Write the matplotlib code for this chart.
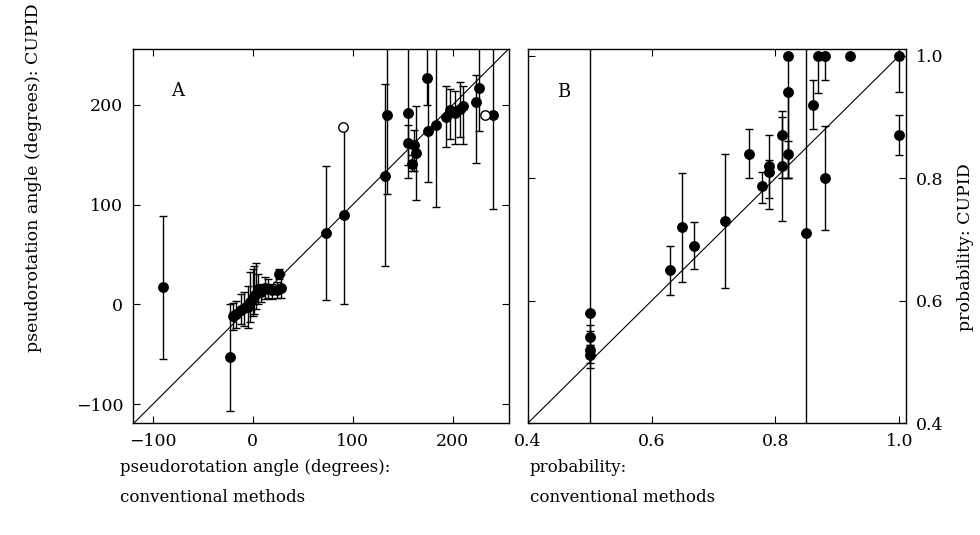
import numpy as np
import matplotlib.pyplot as plt

plt.rcParams['font.family'] = ['DejaVu Serif']
plt.rcParams['axes.unicode_minus'] = True

# Panel A: pseudorotation angle (degrees)
a_x = [-90, -23, -20, -17, -12, -9, -5, -3, 0, 1, 3, 5, 8, 12, 15, 19, 24, 28, 26,
       73, 91, 132, 134, 155, 161, 155, 163, 159, 174, 175, 183,
       193, 197, 202, 207, 210, 223, 226, 240]
a_y = [17, -53, -12, -10, -6, -4, -3, 2, 5, 8, 10, 15, 12, 16, 15, 14, 14, 16, 30,
       72, 90, 129, 190, 192, 160, 162, 152, 141, 227, 174, 180,
       188, 195, 192, 196, 199, 203, 217, 190]
a_lo = [-55, -107, -26, -24, -20, -22, -24, -18, -12, -10, -5, 0, 2, 5, 6, 5, 6, 6, 25,
        4, 0, 38, 111, 127, 134, 140, 105, 134, 200, 123, 98,
        158, 166, 161, 168, 161, 142, 174, 96]
a_hi = [89, 0, 1, 3, 10, 12, 18, 32, 35, 38, 41, 30, 20, 27, 25, 20, 22, 30, 35,
        139, 178, 221, 300, 300, 175, 180, 199, 150, 300, 227, 300,
        219, 216, 214, 223, 219, 230, 300, 300]
a_open_x = [90, 232]
a_open_y = [178, 190]

# Panel B: probability
b_x = [0.5, 0.5, 0.5, 0.5, 0.629, 0.649, 0.669, 0.719, 0.758, 0.779, 0.79, 0.79,
       0.81, 0.81, 0.82, 0.82, 0.82, 0.85, 0.861, 0.869, 0.88, 0.88, 0.92, 1.0, 1.0]
b_y = [0.579, 0.54, 0.52, 0.511, 0.65, 0.72, 0.69, 0.73, 0.84, 0.787, 0.82, 0.81,
       0.87, 0.82, 1.0, 0.94, 0.84, 0.71, 0.92, 1.0, 1.0, 0.80, 1.0, 1.0, 0.87]
b_lo = [0.3, 0.527, 0.498, 0.49, 0.609, 0.63, 0.652, 0.62, 0.80, 0.76, 0.75, 0.767,
        0.73, 0.80, 0.80, 0.80, 0.80, 0.3, 0.88, 0.939, 0.96, 0.716, 1.0, 0.94, 0.838]
b_hi = [1.1, 0.56, 0.55, 0.527, 0.69, 0.809, 0.728, 0.839, 0.88, 0.81, 0.87, 0.83,
        0.91, 0.90, 1.0, 0.94, 0.86, 1.1, 0.96, 1.0, 1.0, 0.885, 1.0, 1.0, 0.903]

fig = plt.figure(figsize=(9.8, 5.35), dpi=100)
axA = fig.add_axes([0.1357, 0.2093, 0.3833, 0.6991])
axB = fig.add_axes([0.5388, 0.2093, 0.3857, 0.6991])


def draw(ax, x, y, lo, hi):
    x = np.array(x); y = np.array(y)
    yerr = [y - np.array(lo), np.array(hi) - y]
    ax.errorbar(x, y, yerr=yerr, fmt='o', color='black', ms=6.8,
                ecolor='black', elinewidth=1.0, capsize=3, capthick=1.0, zorder=3)


# Panel A
draw(axA, a_x, a_y, a_lo, a_hi)
axA.plot(a_open_x, a_open_y, 'o', mfc='white', mec='black', ms=6.8, mew=1.0, zorder=4)
axA.plot([-120, 256], [-120, 256], color='black', lw=0.8, zorder=2)
axA.set_xlim(-120, 256)
axA.set_ylim(-119, 256)
axA.set_xticks([-100, 0, 100, 200])
axA.set_yticks([-100, 0, 100, 200])
axA.tick_params(direction='in', top=True, right=True, length=5, labelsize=12.5, pad=7)
axA.text(-75, 214, 'A', fontsize=13, ha='center', va='center')

# Panel B
draw(axB, b_x, b_y, b_lo, b_hi)
axB.plot([0.4, 1.0], [0.4, 1.0], color='black', lw=0.8, zorder=2)
axB.set_xlim(0.4, 1.011)
axB.set_ylim(0.403, 1.011)
axB.set_xticks([0.4, 0.6, 0.8, 1.0])
axB.set_yticks([0.4, 0.6, 0.8, 1.0])
axB.set_xticklabels(['0.4', '0.6', '0.8', '1.0'])
axB.set_yticklabels(['0.4', '0.6', '0.8', '1.0'])
axB.yaxis.tick_right()
axB.tick_params(direction='in', top=True, left=True, right=True, length=5,
                labelsize=12.5, pad=7)
axB.text(0.457, 0.94, 'B', fontsize=13, ha='center', va='center')

for ax in (axA, axB):
    for s in ax.spines.values():
        s.set_linewidth(1.0)

fig.text(0.034, 1 - 178 / 535, 'pseudorotation angle (degrees): CUPID',
         rotation=90, ha='center', va='center', fontsize=12.5)
fig.text(0.985, 1 - 247 / 535, 'probability: CUPID',
         rotation=90, ha='center', va='center', fontsize=12.5)

# bottom axis titles, two lines each
for x0, lines in [(120, ['pseudorotation angle (degrees):', 'conventional methods']),
                  (530, ['probability:', 'conventional methods'])]:
    for yy, s in zip([468, 497], lines):
        fig.text(x0 / 980, 1 - yy / 535, s, ha='left', va='center', fontsize=12)

fig.savefig('out.png', dpi=100)
